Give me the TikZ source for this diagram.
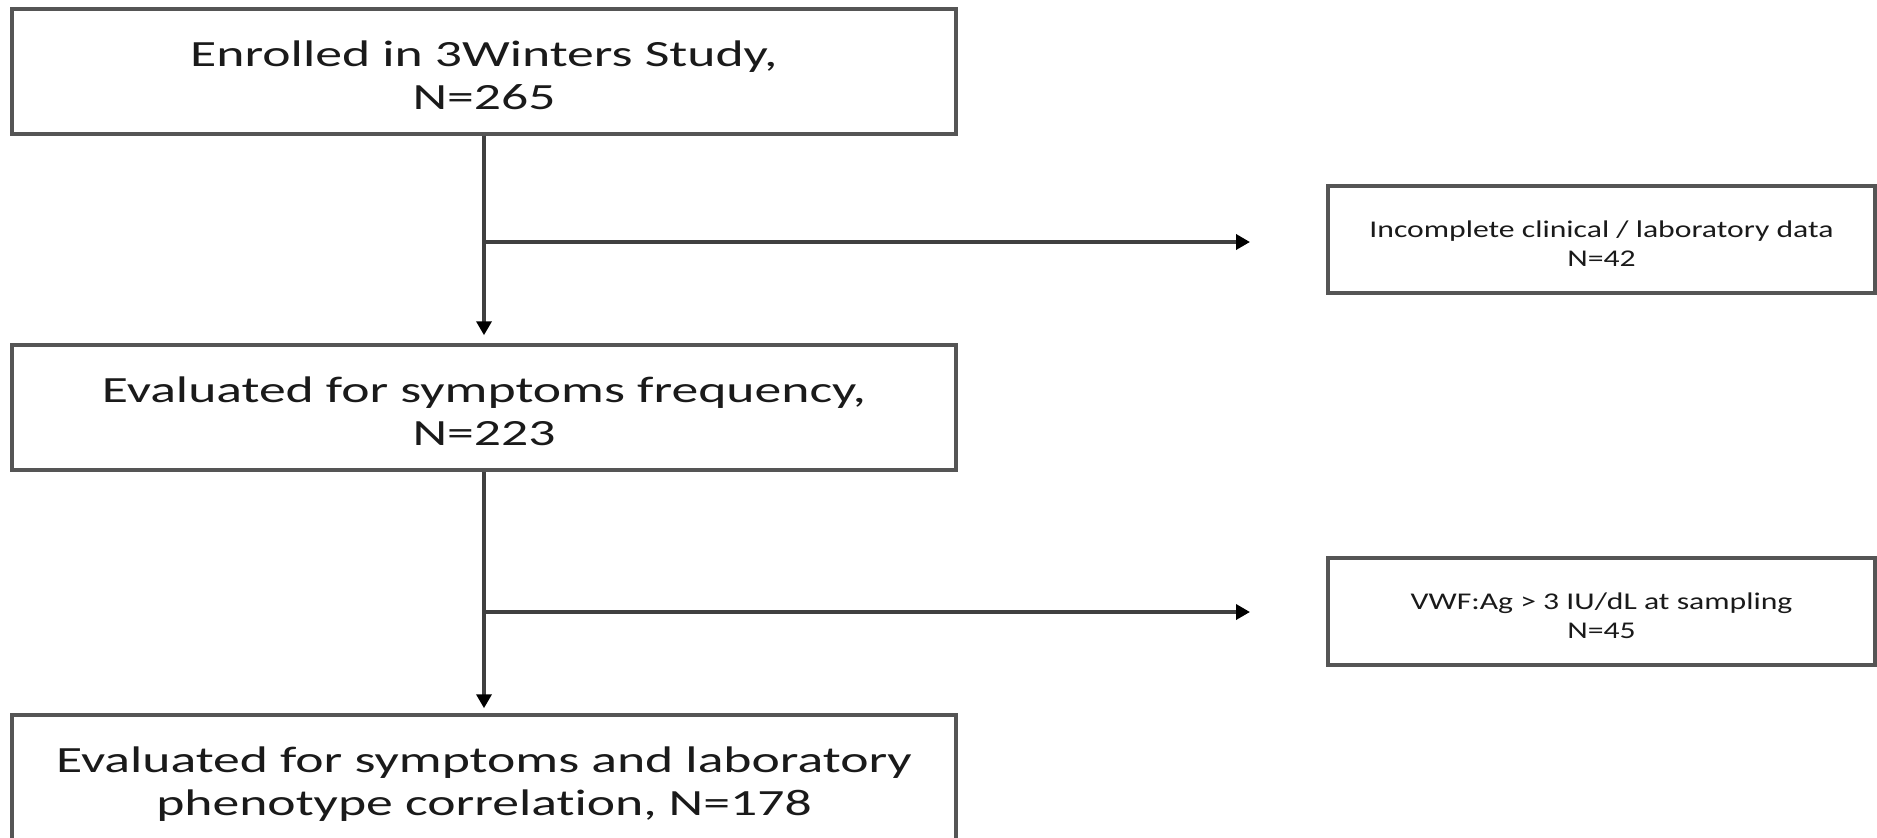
\documentclass[tikz,border=0pt]{standalone}
\usepackage{fontspec}
\newfontfamily\bigf[FakeStretch=1.45,Ligatures=NoCommon]{Carlito}
\newfontfamily\smallf[FakeStretch=1.32,Ligatures=NoCommon]{Carlito}
\usetikzlibrary{arrows.meta}
\definecolor{boxline}{HTML}{555555}
\definecolor{connline}{HTML}{404040}
\definecolor{txt}{HTML}{1A1A1A}
\newcommand{\maintext}[2]{\rule{0pt}{40pt}#1\\\rule[-8pt]{0pt}{8pt}#2}
\newcommand{\sidetext}[2]{\rule{0pt}{25pt}#1\\#2}
\begin{document}
\begin{tikzpicture}[x=1pt,y=-1pt,
  mainbox/.style={draw=boxline, line width=3.5pt, fill=white,
    minimum width=944pt, minimum height=125pt, inner sep=0pt,
    align=center, text=txt, font=\bigf\fontsize{37}{43}\selectfont},
  sidebox/.style={draw=boxline, line width=3.5pt, fill=white,
    minimum width=547pt, minimum height=107pt, inner sep=0pt,
    align=center, text=txt, font=\smallf\fontsize{24}{29}\selectfont},
  connarrow/.style={draw=connline, line width=3.5pt,
    -{Triangle[length=14pt,width=15pt,color=black,fill=black]}}
]
\useasboundingbox (0,0) rectangle (1877,838);
\node[mainbox] (b1) at (484,71.5) {\maintext{Enrolled in 3Winters Study,}{N=265}};
\node[mainbox] (b2) at (484,407.5) {\maintext{Evaluated for symptoms frequency,}{N=223}};
\node[mainbox] (b3) at (484,777.5) {\maintext{Evaluated for symptoms and laboratory}{phenotype correlation, N=178}};
\node[sidebox] (s1) at (1601.5,239.5) {\sidetext{Incomplete clinical / laboratory data}{N=42}};
\node[sidebox] (s2) at (1601.5,611.5) {\sidetext{VWF:Ag > 3 IU/dL at sampling}{N=45}};
\draw[connarrow, shorten >=8pt] (b1.south) -- (b2.north);
\draw[connarrow, shorten >=5pt] (b2.south) -- (b3.north);
\coordinate (j1) at (484,242);
\coordinate (e1) at (1250,242);
\coordinate (j2) at (484,612);
\coordinate (e2) at (1250,612);
\draw[connarrow] (j1) -- (e1);
\draw[connarrow] (j2) -- (e2);
\end{tikzpicture}
\end{document}
